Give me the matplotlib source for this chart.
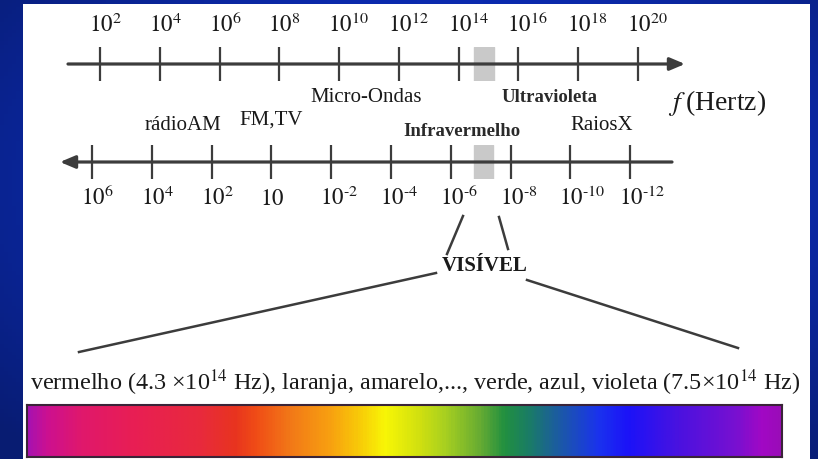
import numpy as np
import matplotlib
matplotlib.use('Agg')
import matplotlib.pyplot as plt
import matplotlib.transforms as mtransforms
from matplotlib.colors import LinearSegmentedColormap
from matplotlib.patches import Rectangle
from matplotlib.ticker import NullLocator

plt.rcParams['font.family'] = ['Liberation Serif', 'DejaVu Serif']
plt.rcParams['mathtext.fontset'] = 'stix'

# frequency scale (Hz), exponents of the tick marks
freq_exps = [2, 4, 6, 8, 10, 12, 14, 16, 18, 20]
freq_labels = [r'$10^{%d}$' % e for e in freq_exps]
# wavelength scale (m), decreasing to the right
wave_exps = [6, 4, 2, 0, -2, -4, -6, -8, -10, -12]
wave_labels = [r'$10^{6}$', r'$10^{4}$', r'$10^{2}$', r'$10$', r'$10^{\text{-}2}$',
               r'$10^{\text{-}4}$', r'$10^{\text{-}6}$', r'$10^{\text{-}8}$',
               r'$10^{\text{-}10}$', r'$10^{\text{-}12}$']
# visible band marked on each scale (log10 limits)
visible_freq = [14.5, 15.17]
visible_wave = [-6.77, -7.41]

region_names = ['Micro-Ondas', 'rádioAM', 'FM,TV', 'Infravermelho', 'Ultravioleta', 'RaiosX']
caption = ('vermelho (4.3 ×10$^{14}$ Hz), laranja, amarelo,..., verde, azul, '
           'violeta (7.5×10$^{14}$ Hz)')

# colours along the visible spectrum bar (fraction of length, colour)
spec_pos = [0.0, 0.024, 0.07, 0.136, 0.229, 0.275, 0.302, 0.348, 0.401, 0.441, 0.474,
            0.521, 0.554, 0.600, 0.633, 0.666, 0.706, 0.759, 0.799, 0.865, 0.944, 0.977, 1.0]
spec_col = ['#a812b0', '#cc1090', '#e0186c', '#e81e55', '#e82a3c', '#e8341f', '#f04c16',
            '#f27818', '#f8a010', '#f8cc08', '#f8f606', '#d0e010', '#a8d020', '#68ac32',
            '#229040', '#1a7c66', '#1c5aa4', '#1a32ee', '#1c12f8', '#4a12e0', '#7a10d0',
            '#a208c4', '#9a0cb8']

W, H = 818, 460
LINE = '#3c3c3c'
TXT = '#1a1a1a'


def px_rect(x0, y0, x1, y1):
    # pixel box (top-left origin) -> figure fraction
    return [x0 / W, 1 - y1 / H, (x1 - x0) / W, (y1 - y0) / H]


fig = plt.figure(figsize=(W / 100, H / 100), dpi=100)
ax = fig.add_axes([0, 0, 1, 1])
ax.set_xlim(0, W)
ax.set_ylim(H, 0)
ax.axis('off')

# blue slide background
yy, xx = np.mgrid[0:1:120j, 0:1:200j]
r = np.clip(np.sqrt(((xx - 0.55) / 0.75) ** 2 + ((yy - 0.4) / 0.8) ** 2), 0, 1)
bg_cmap = LinearSegmentedColormap.from_list('bg', ['#1236cc', '#0b2aae', '#081c72'])
ax.imshow(r, cmap=bg_cmap, extent=(0, W, H, 0), aspect='auto', zorder=0)
ax.add_patch(Rectangle((23, 5), 787, 460, facecolor='white', edgecolor='none', zorder=1))

offset = mtransforms.ScaledTranslation(-0.11, 0, fig.dpi_scale_trans)


def number_line(rect, lim, exps, labels, band, label_y, head_right):
    a = fig.add_axes(px_rect(*rect))
    a.set_xscale('log')
    a.set_xlim(10.0 ** lim[0], 10.0 ** lim[1])
    a.set_ylim(0, 1)
    a.patch.set_visible(False)
    for s in a.spines.values():
        s.set_visible(False)
    a.spines['bottom'].set_position(('axes', 0.5))
    a.set_xticks(10.0 ** np.array(exps, dtype=float))
    a.xaxis.set_minor_locator(NullLocator())
    a.set_yticks([])
    a.tick_params(axis='x', which='major', direction='inout', length=25, width=1.6,
                  color=LINE, labelbottom=False)
    a.axvspan(10.0 ** band[0], 10.0 ** band[1], color='#c9c9c9', zorder=0)
    tip, tail = ((1, 0.5), (0, 0.5)) if head_right else ((0, 0.5), (1, 0.5))
    a.annotate('', xy=tip, xytext=tail, xycoords='axes fraction', annotation_clip=False,
               arrowprops=dict(arrowstyle='-|>,head_length=0.9,head_width=0.38', color=LINE,
                               lw=2.3, shrinkA=0, shrinkB=0, mutation_scale=10))
    for e, lab in zip(exps, labels):
        a.text(10.0 ** e, label_y, lab, transform=a.get_xaxis_transform() + offset,
               ha='left', va='baseline', fontsize=16.5, color=TXT)
    return a


number_line((68, 48, 685, 82), (0.93, 21.57), freq_exps, freq_labels, visible_freq, 1.47, True)
number_line((60, 146, 672, 180), (7.07, -13.40), wave_exps, wave_labels, visible_wave, -0.735, False)

# region names
ax.text(366, 97, region_names[0], ha='center', va='center', fontsize=15, color=TXT, zorder=3)
ax.text(183, 125, region_names[1], ha='center', va='center', fontsize=15, color=TXT, zorder=3)
ax.text(271, 120, region_names[2], ha='center', va='center', fontsize=15, color=TXT, zorder=3)
ax.text(462, 132, region_names[3], ha='center', va='center', fontsize=13.5, fontweight='bold',
        color='#2a2a2a', zorder=3)
ax.text(550, 98, region_names[4], ha='center', va='center', fontsize=13.5, fontweight='bold',
        color='#2a2a2a', zorder=3)
ax.text(602, 125, region_names[5], ha='center', va='center', fontsize=15, color=TXT, zorder=3)
ax.text(668, 103, r'$f\;$(Hertz)', ha='left', va='center', fontsize=20, color=TXT, zorder=3)

# zoom onto the visible band
ax.text(485, 266, 'VISÍVEL', ha='center', va='center', fontsize=15, fontweight='bold',
        color=TXT, zorder=3)
ax.plot([463, 447], [217, 255], color=LINE, lw=1.8, zorder=3)
ax.plot([499, 508], [218, 250], color=LINE, lw=1.8, zorder=3)
ax.plot([436, 79], [274, 353], color=LINE, lw=1.8, zorder=3)
ax.plot([527, 738], [281, 349], color=LINE, lw=1.8, zorder=3)

ax.text(415, 383, caption, ha='center', va='center', fontsize=17.4, color=TXT, zorder=3)

# visible spectrum bar
bar = fig.add_axes(px_rect(27, 406, 782, 458))
spec_cmap = LinearSegmentedColormap.from_list('spec', list(zip(spec_pos, spec_col)))
bar.imshow(np.linspace(0, 1, 600)[None, :], cmap=spec_cmap, aspect='auto', extent=(0, 1, 0, 1))
bar.set_xticks([])
bar.set_yticks([])
for s in bar.spines.values():
    s.set_color('#3a2438')
    s.set_linewidth(1.5)

fig.savefig('out.png', dpi=100)
